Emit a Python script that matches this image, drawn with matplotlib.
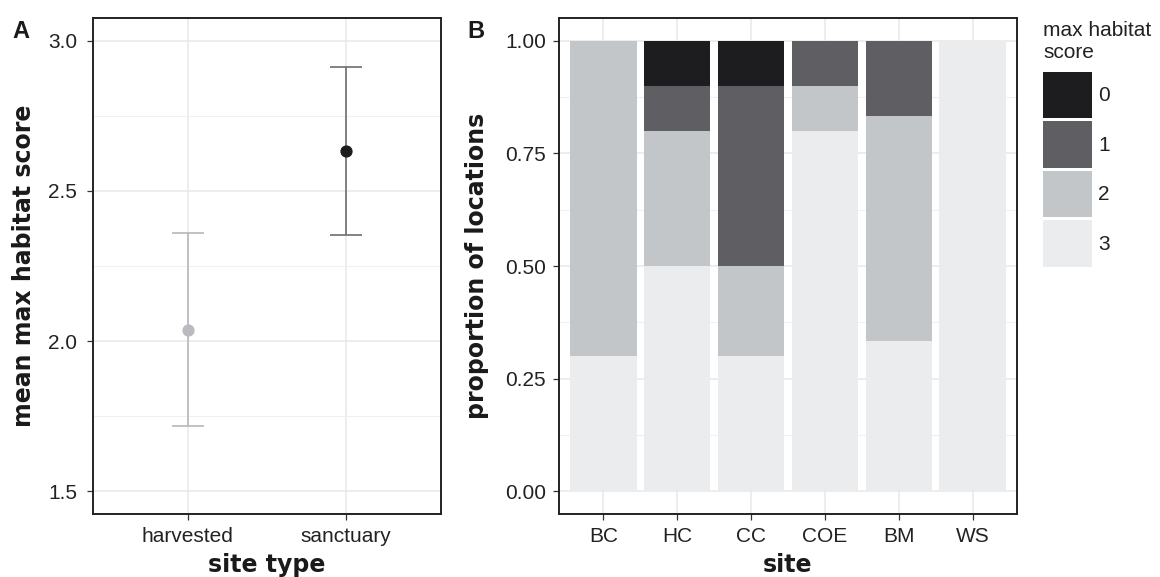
import matplotlib
matplotlib.use('Agg')
import matplotlib.pyplot as plt
from matplotlib.patches import Patch
from matplotlib.ticker import MultipleLocator, FormatStrFormatter
import numpy as np

plt.rcParams['font.family'] = ['Liberation Sans', 'DejaVu Sans']

# panel A data
site_types = ['harvested', 'sanctuary']
mean_score = [2.038, 2.633]
ci_low = [1.716, 2.354]
ci_high = [2.361, 2.913]
point_colors = ['#bbbbbf', '#1c1c1f']
bar_colors = ['#b8b8b8', '#6e6e6e']

# panel B data
sites = ['BC', 'HC', 'CC', 'COE', 'BM', 'WS']
scores = ['0', '1', '2', '3']
prop_0 = [0.0, 0.1, 0.1, 0.0, 0.0, 0.0]
prop_1 = [0.0, 0.1, 0.4, 0.1, 0.167, 0.0]
prop_2 = [0.7, 0.3, 0.2, 0.1, 0.5, 0.0]
prop_3 = [0.3, 0.5, 0.3, 0.8, 0.333, 1.0]
score_colors = ['#1d1d20', '#5f5e63', '#c3c6c9', '#ebecee']

W, H = 1160, 577
fig = plt.figure(figsize=(W / 100, H / 100), dpi=100)
TITLE_FONT = dict(fontsize=17, fontweight='bold', family=['DejaVu Sans'], color='#1a1a1a')


def px_axes(x0, y0, x1, y1):
    return fig.add_axes([x0 / W, 1 - y1 / H, (x1 - x0) / W, (y1 - y0) / H])


def style(ax, ypad):
    ax.set_facecolor('white')
    ax.grid(True, which='major', color='#e8e8e8', lw=1.1, zorder=0)
    ax.grid(True, which='minor', axis='y', color='#f0f0f0', lw=0.8, zorder=0)
    ax.set_axisbelow(True)
    for s in ax.spines.values():
        s.set_color('#222222')
        s.set_linewidth(1.4)
    ax.tick_params(axis='both', which='major', length=4.5, width=0.9, color='#333333',
                   labelsize=15, labelcolor='#222222')
    ax.tick_params(axis='x', pad=5)
    ax.tick_params(axis='y', pad=ypad)
    ax.tick_params(axis='both', which='minor', length=0)


# ---- panel A ----
axA = px_axes(93, 18, 441, 514)
style(axA, 7)
xA = np.arange(1, len(site_types) + 1)
for i in range(len(site_types)):
    axA.errorbar(xA[i], mean_score[i],
                 yerr=[[mean_score[i] - ci_low[i]], [ci_high[i] - mean_score[i]]],
                 fmt='none', ecolor=bar_colors[i], elinewidth=1.2, capsize=11.2,
                 capthick=1.2, zorder=3)
    axA.plot(xA[i], mean_score[i], 'o', ms=7.8, color=point_colors[i], zorder=4)
axA.set_xlim(0.4, 2.6)
axA.set_ylim(1.4243, 3.0757)
axA.set_xticks(xA)
axA.set_xticklabels(site_types)
axA.set_yticks([1.5, 2.0, 2.5, 3.0])
axA.yaxis.set_minor_locator(MultipleLocator(0.25))
axA.yaxis.set_major_formatter(FormatStrFormatter('%.1f'))
axA.set_xlabel('site type', **TITLE_FONT)
axA.set_ylabel('mean max habitat score', **TITLE_FONT)
axA.xaxis.set_label_coords(0.5, (514 - 565) / 496)
axA.xaxis.label.set_va('center')
axA.yaxis.set_label_coords((24 - 93) / 348, 0.5)
axA.yaxis.label.set_va('center')
fig.text(12 / W, 1 - 38 / H, 'A', fontsize=17, fontweight='bold', color='#1a1a1a')

# ---- panel B ----
axB = px_axes(559, 18, 1017, 514)
style(axB, 5)
xB = np.arange(1, len(sites) + 1)
layers = [prop_3, prop_2, prop_1, prop_0]
layer_colors = [score_colors[3], score_colors[2], score_colors[1], score_colors[0]]
bottom = np.zeros(len(sites))
for vals, c in zip(layers, layer_colors):
    vals = np.array(vals)
    axB.bar(xB, vals, bottom=bottom, width=0.9, color=c, lw=0, zorder=2)
    bottom += vals
axB.set_xlim(0.4, 6.6)
axB.set_ylim(-0.05, 1.05)
axB.set_xticks(xB)
axB.set_xticklabels(sites)
axB.set_yticks([0, 0.25, 0.5, 0.75, 1.0])
axB.yaxis.set_minor_locator(MultipleLocator(0.125))
axB.yaxis.set_major_formatter(FormatStrFormatter('%.2f'))
axB.set_xlabel('site', **TITLE_FONT)
axB.set_ylabel('proportion of locations', **TITLE_FONT)
axB.xaxis.set_label_coords(0.5, (514 - 565) / 496)
axB.xaxis.label.set_va('center')
axB.yaxis.set_label_coords((477 - 559) / 458, 0.5)
axB.yaxis.label.set_va('center')
fig.text(467 / W, 1 - 38 / H, 'B', fontsize=17, fontweight='bold', color='#1a1a1a')

handles = [Patch(facecolor=c, edgecolor='none', label=s) for s, c in zip(scores, score_colors)]
leg = fig.legend(handles=handles, title='max habitat\nscore', loc='upper left',
                 bbox_to_anchor=(1043 / W, 1 - 21 / H), frameon=False, fontsize=15,
                 title_fontsize=15, handlelength=2.36, handleheight=3.05,
                 handletextpad=0.3, labelspacing=0.15, borderaxespad=0, borderpad=0)
leg._legend_box.align = 'left'
leg._legend_box.sep = 7
leg.get_title().set_color('#222222')
leg.get_title().set_linespacing(1.2)
for t in leg.get_texts():
    t.set_color('#222222')

fig.savefig('out.png', dpi=100)
